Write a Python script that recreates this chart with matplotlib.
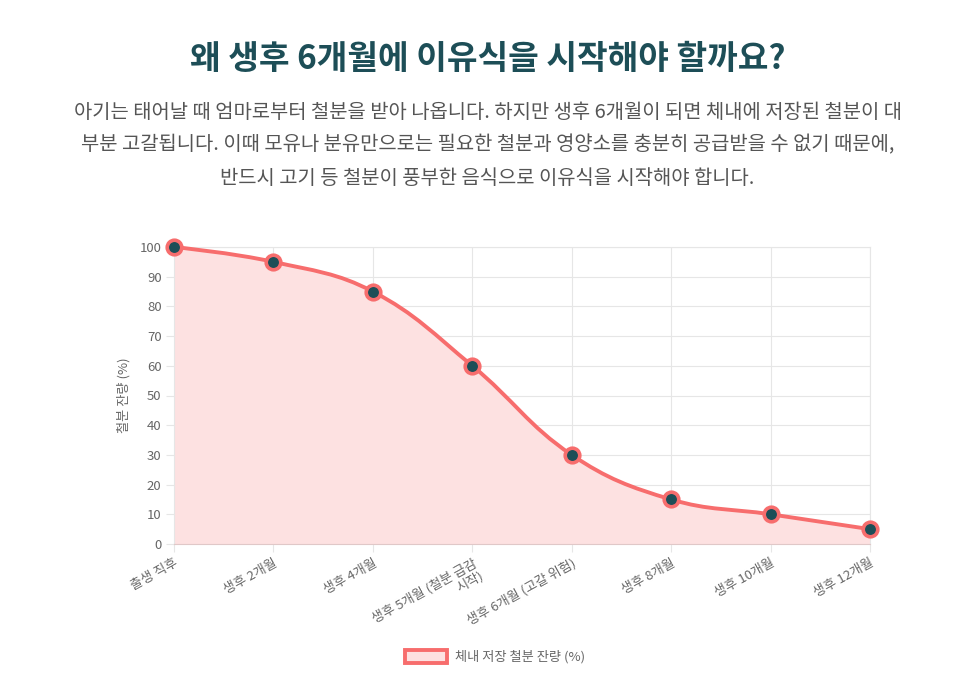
import numpy as np
import matplotlib
matplotlib.use("Agg")
import matplotlib.pyplot as plt
from matplotlib.path import Path
from matplotlib.patches import PathPatch, Rectangle

plt.rcParams['font.family'] = ['Noto Sans CJK KR', 'DejaVu Sans']

categories = ["출생 직후", "생후 2개월", "생후 4개월", "생후 5개월 (철분 급감\n시작)",
              "생후 6개월 (고갈 위험)", "생후 8개월", "생후 10개월", "생후 12개월"]
values = [100, 95, 85, 60, 30, 15, 10, 5]
yticks = list(range(0, 101, 10))
title = "왜 생후 6개월에 이유식을 시작해야 할까요?"
para = ["아기는 태어날 때 엄마로부터 철분을 받아 나옵니다. 하지만 생후 6개월이 되면 체내에 저장된 철분이 대",
        "부분 고갈됩니다. 이때 모유나 분유만으로는 필요한 철분과 영양소를 충분히 공급받을 수 없기 때문에,",
        "반드시 고기 등 철분이 풍부한 음식으로 이유식을 시작해야 합니다."]
ylabel = "철분 잔량 (%)"
legend_label = "체내 저장 철분 잔량 (%)"

W, H = 975, 689
fig = plt.figure(figsize=(W/100, H/100), dpi=100)
L, R, T, B = 174, 870, 247, 544
ax = fig.add_axes([L/W, 1-B/H, (R-L)/W, (B-T)/H])

line_c = "#f76d6d"
fill_c = "#fde1e1"
dot_c = "#1d4e57"
grid_c = "#e6e6e6"
small = 9.5

x = np.arange(len(values))
ax.set_xlim(0, len(values)-1)
ax.set_ylim(0, 100)

# chart.js-like spline in pixel space
px = L + (R-L) * x / (len(values)-1)
py = B - (B-T) * np.array(values) / 100.0
t = 0.4
verts = [(px[0], py[0])]
codes = [Path.MOVETO]
cps = []
for i in range(len(px)):
    if i == 0 or i == len(px)-1:
        cps.append(((px[i], py[i]), (px[i], py[i])))
        continue
    d01 = np.hypot(px[i]-px[i-1], py[i]-py[i-1])
    d12 = np.hypot(px[i+1]-px[i], py[i+1]-py[i])
    s01 = d01/(d01+d12); s12 = d12/(d01+d12)
    fa, fb = t*s01, t*s12
    dx, dy = px[i+1]-px[i-1], py[i+1]-py[i-1]
    prev = (px[i]-fa*dx, min(B, max(T, py[i]-fa*dy)))
    nxt = (px[i]+fb*dx, min(B, max(T, py[i]+fb*dy)))
    cps.append((prev, nxt))
for i in range(1, len(px)):
    verts += [cps[i-1][1], cps[i][0], (px[i], py[i])]
    codes += [Path.CURVE4]*3

def to_data(v):
    X, Y = v
    return ((X-L)/(R-L)*(len(values)-1), (B-Y)/(B-T)*100)

dverts = [to_data(v) for v in verts]
line_path = Path(dverts, codes)
fill_verts = dverts + [(len(values)-1, 0), (0, 0), dverts[0]]
fill_codes = codes + [Path.LINETO, Path.LINETO, Path.CLOSEPOLY]
ax.add_patch(PathPatch(Path(fill_verts, fill_codes), facecolor=fill_c, edgecolor='none', zorder=1))
ax.add_patch(PathPatch(line_path, facecolor='none', edgecolor=line_c, lw=2.8, zorder=3, clip_on=False))
ax.scatter(x, values, s=110, facecolor=dot_c, edgecolor=line_c, linewidths=2.6, zorder=4, clip_on=False)

ax.set_xticks(x)
ax.set_xticklabels(categories, rotation=29, ha='right', va='top', rotation_mode='anchor',
                   fontsize=small, color='#666666', linespacing=1.0)
ax.set_yticks(yticks)
ax.set_yticklabels([str(v) for v in yticks], fontsize=small, color='#666666')
ax.grid(True, color=grid_c, lw=0.8, zorder=0)
ax.set_axisbelow(True)
ax.tick_params(axis='both', length=6, width=0.8, color=grid_c, pad=3)
for s in ax.spines.values():
    s.set_color(grid_c)
    s.set_linewidth(0.8)
ax.spines['bottom'].set_color('#e0c8c8')

fig.text(124/W, 1-395/H, ylabel, rotation=90, ha='center', va='center', fontsize=small, color='#666666')

fig.text(0.5, 1-60/H, title, ha='center', va='center', fontsize=24, fontweight='bold', color='#1d4e57')
for i, ln in enumerate(para):
    fig.text(0.5, 1-(112+33*i)/H, ln, ha='center', va='center', fontsize=14.3, color='#555555')

# legend
fig.patches.append(Rectangle((405/W, 1-663/H), 42/W, 13/H, transform=fig.transFigure,
                             facecolor=fill_c, edgecolor=line_c, lw=2.8))
fig.text(455/W, 1-657/H, legend_label, ha='left', va='center', fontsize=small, color='#666666')

fig.savefig("out.png", dpi=100)
